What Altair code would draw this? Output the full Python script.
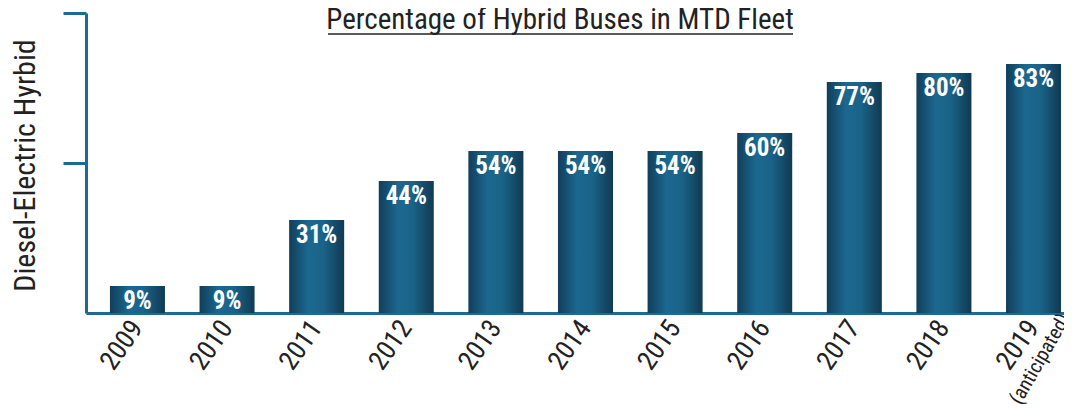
import altair as alt
import pandas as pd

years = ["2009", "2010", "2011", "2012", "2013", "2014", "2015", "2016", "2017", "2018", "2019"]
values = [9, 9, 31, 44, 54, 54, 54, 60, 77, 80, 83]
labels = ["9%", "9%", "31%", "44%", "54%", "54%", "54%", "60%", "77%", "80%", "83%"]
title_text = "Percentage of Hybrid Buses in MTD Fleet"
y_title = "Diesel-Electric Hyrbid"
note_year = "2019"
note_text = "(anticipated)"

FONT = "'Roboto Condensed', 'Liberation Sans Narrow', 'DejaVu Sans Condensed', sans-serif"
AXIS_BLUE = "#1f6a94"
TEXT_DARK = "#222222"

df = pd.DataFrame({"year": years, "value": values, "label": labels})
note_df = pd.DataFrame({"year": [note_year], "note": [note_text]})
title_df = pd.DataFrame({"t": [title_text]})

W, H = 978, 300

x_scale = alt.Scale(domain=years, paddingInner=0.386, paddingOuter=0.15, align=0.89)
y_scale = alt.Scale(domain=[0, 100])

grad = alt.LinearGradient(
    gradient="linear",
    stops=[
        alt.GradientStop(offset=0, color="#123e5a"),
        alt.GradientStop(offset=0.35, color="#1b6890"),
        alt.GradientStop(offset=0.62, color="#1a6388"),
        alt.GradientStop(offset=1, color="#103a52"),
    ],
    x1=0, x2=1, y1=0, y2=0,
)

base = alt.Chart(df)

bars = base.mark_bar(color=grad).encode(
    x=alt.X("year:N", scale=x_scale, sort=years,
            axis=alt.Axis(title=None, labelAngle=-55, labelFont=FONT, labelFontSize=27,
                          labelColor=TEXT_DARK, labelPadding=10, ticks=False,
                          domainColor=AXIS_BLUE, domainWidth=3, grid=False)),
    y=alt.Y("value:Q", scale=y_scale,
            axis=alt.Axis(title=y_title, values=[50, 100], labels=False, tickSize=23,
                          tickWidth=3, tickColor=AXIS_BLUE, domainColor=AXIS_BLUE,
                          domainWidth=3, grid=False, titleFont=FONT, titleFontSize=30,
                          titleFontWeight="normal", titleColor=TEXT_DARK, titleAngle=270,
                          titleAlign="center", titleBaseline="alphabetic",
                          titleX=-52, titleY=152)),
)

text = base.mark_text(color="white", font=FONT, fontWeight="bold", fontSize=25,
                      baseline="alphabetic", dy=23).encode(
    x=alt.X("year:N", scale=x_scale, sort=years),
    y=alt.Y("value:Q", scale=y_scale),
    text="label:N",
)

note = alt.Chart(note_df).mark_text(font=FONT, fontSize=20, color=TEXT_DARK, angle=300,
                                    align="left", baseline="alphabetic", dx=-80, dy=31).encode(
    x=alt.X("year:N", scale=x_scale, sort=years),
    y=alt.value(H + 8),
    text="note:N",
)

title = alt.Chart(title_df).mark_text(font=FONT, fontSize=29, color=TEXT_DARK,
                                      align="center", baseline="alphabetic").encode(
    x=alt.value(474), y=alt.value(16), text="t:N"
)

underline = alt.Chart(title_df).mark_rule(color=TEXT_DARK, strokeWidth=1.5).encode(
    x=alt.value(242), x2=alt.value(707), y=alt.value(21)
)

chart = alt.layer(bars, text, note, title, underline).properties(
    width=W, height=H,
    autosize=alt.AutoSizeParams(type="none"),
    padding={"left": 78, "top": 5, "right": 0, "bottom": 91},
    background="white",
).configure_view(stroke=None)

chart.save("out.html", embed_options={"renderer": "svg", "actions": False})
